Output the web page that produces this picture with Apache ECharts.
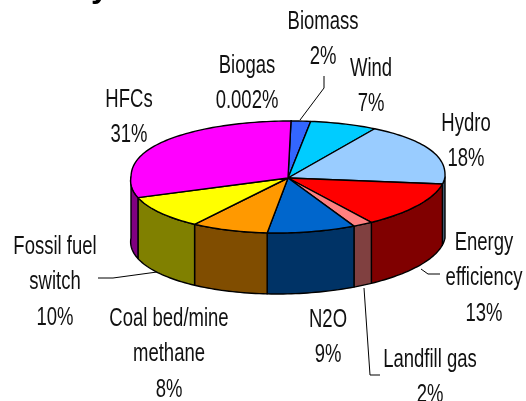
<!DOCTYPE html>
<html>
<head>
<meta charset="utf-8">
<style>html,body{margin:0;padding:0;background:#fff}#c{width:526px;height:401px}</style>
<script src="https://cdn.jsdelivr.net/npm/echarts@6/dist/echarts.min.js"></script>
</head>
<body>
<div id="c"></div>
<script>
// Emission-reduction shares by project type, clockwise from twelve o'clock.
const names = ['Biogas', 'Biomass', 'Wind', 'Hydro', 'Energy\nefficiency', 'Landfill gas', 'N2O', 'Coal bed/mine\nmethane', 'Fossil fuel\nswitch', 'HFCs'];
const shares = [0.002, 2, 7, 18, 13, 2, 9, 8, 10, 31];
const valueLabels = ['0.002%', '2%', '7%', '18%', '13%', '2%', '9%', '8%', '10%', '31%'];
const topColors = ['#000080', '#3366FF', '#00CCFF', '#99CCFF', '#FF0000', '#FF8080', '#0066CC', '#FF9900', '#FFFF00', '#FF00FF'];
const wallColors = ['#000040', '#1A3380', '#006680', '#4D6680', '#800000', '#804040', '#003366', '#804D00', '#808000', '#800080'];

// Label anchors (centre x, centre y of the first line).
const labelAnchors = [[247, 65.5], [323, 21.5], [371, 68.5], [466, 123.5], [484, 242.5], [430, 359.5], [328, 319.5], [169, 318.5], [55, 246.5], [129, 99.5]];
const LINE_HEIGHT = 35.5;

// Leader lines for the labels that sit away from their slices.
const leaders = [
  [[324, 76], [324, 88], [300, 120]],
  [[98, 278], [113, 278], [157, 272]],
  [[440, 274], [428, 274], [421, 269]],
  [[380, 375], [370, 375], [364, 288]]
];

// Tilted-disc projection of the pie.
const CX = 288, CY = 177, RX = 157, RY = 56, DEPTH = 61;
const total = shares.reduce((a, b) => a + b, 0);

function project(deg, drop) {
  const t = deg * Math.PI / 180;
  const c = Math.cos(t);
  const lean = c > 0 ? 3 * c : 11 * c;
  // The far rim is slightly squarer than a true ellipse.
  const depthShare = c > 0 ? Math.pow(c, 0.88) : c;
  return [CX + RX * Math.sin(t) + lean, CY - RY * depthShare + (drop || 0)];
}
function arc(from, to, drop) {
  const n = Math.max(2, Math.ceil((to - from) / 1.5));
  const pts = [];
  for (let i = 0; i <= n; i++) pts.push(project(from + (to - from) * i / n, drop));
  return pts;
}

function renderSlice(params, api) {
  const i = params.dataIndex;
  const value = api.value(1);
  let before = 0;
  for (let k = 0; k < i; k++) before += shares[k];
  const from = before / total * 360;
  const to = (before + value) / total * 360;
  const edge = { stroke: '#000', lineWidth: 1.4, lineJoin: 'round' };
  const children = [];

  // Rim wall: only the part facing the viewer.
  const wallFrom = Math.max(from, 90), wallTo = Math.min(to, 270);
  if (wallTo > wallFrom) {
    const upper = arc(wallFrom, wallTo, 0);
    const lower = arc(wallFrom, wallTo, DEPTH).reverse();
    children.push({
      type: 'polygon',
      shape: { points: upper.concat(lower) },
      style: Object.assign({ fill: wallColors[i] }, edge)
    });
  }
  // Top face.
  children.push({
    type: 'polygon',
    z2: 10,
    shape: { points: [[CX, CY + 1]].concat(arc(from, Math.max(to, from + 0.2), 0)) },
    style: Object.assign({ fill: topColors[i] }, edge)
  });
  return { type: 'group', children };
}

// Condensed labels: a tall face squeezed horizontally.
const labelGraphics = names.map((name, i) => {
  const lines = name.split('\n').concat(valueLabels[i]);
  return lines.map((line, j) => ({
    type: 'text',
    x: labelAnchors[i][0],
    y: labelAnchors[i][1] + j * LINE_HEIGHT,
    scaleX: 0.72,
    style: {
      text: line,
      fill: '#111',
      font: '25.7px "Liberation Sans", sans-serif',
      textAlign: 'center',
      textVerticalAlign: 'middle'
    }
  }));
}).flat();

const leaderGraphics = leaders.map(points => ({
  type: 'polyline',
  shape: { points },
  style: { stroke: '#000', lineWidth: 1, fill: null }
}));

// Descender of the heading, which runs off the top of the page.
const headingGraphic = {
  type: 'text',
  x: 100,
  y: -12,
  style: {
    text: 'y',
    fill: '#000',
    font: 'bold 32px "Liberation Sans", sans-serif',
    textAlign: 'center',
    textVerticalAlign: 'middle'
  }
};

const chart = echarts.init(document.getElementById('c'), null, { renderer: 'canvas' });
chart.setOption({
  animation: false,
  backgroundColor: '#fff',
  series: [{
    type: 'custom',
    coordinateSystem: 'none',
    renderItem: renderSlice,
    data: shares.map((v, i) => [i, v]),
    silent: true
  }],
  graphic: { elements: labelGraphics.concat(leaderGraphics, [headingGraphic]) }
});
</script>
</body>
</html>
